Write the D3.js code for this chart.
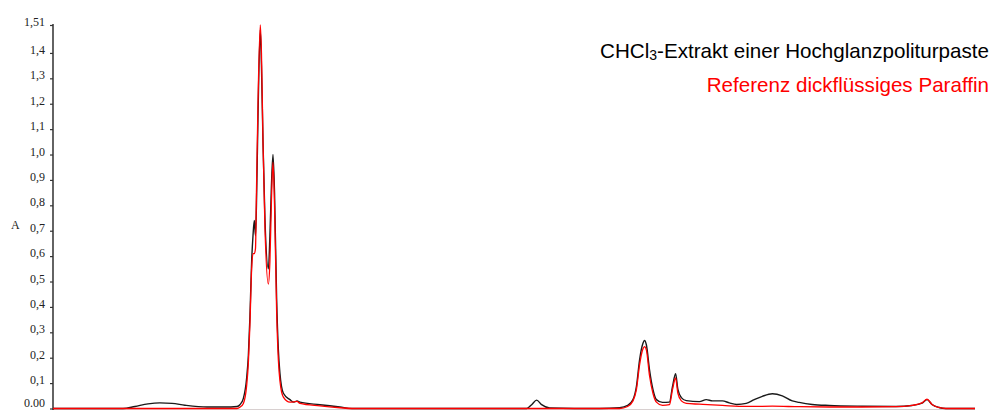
<!DOCTYPE html>
<html><head><meta charset="utf-8">
<script src="https://cdn.jsdelivr.net/npm/d3@7"></script>
<style>html,body{margin:0;padding:0;background:#fff;}svg{display:block;}</style>
</head><body>
<svg id="c" width="992" height="410"></svg>
<script>
// wavenumbers (cm-1) and absorbance
const sampleWn = [4000,3636,3574,3506,3444,3381,3314,3199,3106,3043,3028,3010,2993,2984,2976,2967,2960,2953,2947,2942,2934,2922,2916,2908,2898,2880,2872,2864,2856,2848,2837,2828,2820,2802,2768,2747,2731,2716,2612,2508,2445,1768,1755,1742,1729,1708,1578,1526,1505,1491,1482,1474,1465,1461,1456,1448,1439,1430,1414,1396,1388,1380,1374,1365,1352,1318,1300,1284,1258,1240,1221,1196,1175,1154,1128,1102,1076,1058,1024,980,894,806,764,738,725,712,694,676,600];
const sampleA  = [0,0,0.008,0.018,0.022,0.02,0.013,0.006,0.006,0.008,0.015,0.04,0.12,0.21,0.36,0.58,0.68,0.74,0.68,0.80,1.15,1.49,1.35,1.05,0.75,0.55,0.68,0.88,1.00,0.85,0.43,0.23,0.14,0.06,0.035,0.025,0.03,0.025,0.015,0.006,0,0,0.015,0.033,0.015,0.002,0,0.003,0.012,0.035,0.087,0.19,0.257,0.268,0.25,0.153,0.075,0.035,0.024,0.025,0.087,0.137,0.075,0.043,0.031,0.027,0.035,0.03,0.03,0.022,0.016,0.02,0.035,0.048,0.058,0.05,0.03,0.024,0.016,0.012,0.009,0.008,0.012,0.021,0.035,0.016,0.004,0,0];
const refWn = [4000,3043,3028,3010,2993,2984,2976,2967,2960,2953,2947,2942,2934,2922,2916,2908,2898,2880,2872,2864,2856,2848,2837,2828,2820,2802,2768,2731,2716,2612,2508,2445,1526,1505,1491,1482,1474,1465,1461,1456,1448,1439,1430,1414,1396,1388,1380,1374,1365,1352,1318,1258,1196,1128,1058,980,894,806,764,738,725,712,694,676,600];
const refA  = [0,0,0.005,0.02,0.09,0.18,0.33,0.55,0.61,0.61,0.63,0.85,1.2,1.51,1.40,1.05,0.72,0.49,0.58,0.82,0.97,0.80,0.38,0.19,0.11,0.045,0.025,0.028,0.02,0.01,0.003,0,0,0.008,0.03,0.075,0.17,0.235,0.244,0.23,0.13,0.06,0.025,0.012,0.015,0.075,0.12,0.06,0.03,0.02,0.017,0.012,0.008,0.009,0.007,0.006,0.006,0.007,0.012,0.022,0.037,0.016,0.004,0,0];
const yTickValues = [0,0.1,0.2,0.3,0.4,0.5,0.6,0.7,0.8,0.9,1.0,1.1,1.2,1.3,1.4,1.51];
const yTickLabels = ["0.00","0,1","0,2","0,3","0,4","0,5","0,6","0,7","0,8","0,9","1,0","1,1","1,2","1,3","1,4","1,51"];
const seriesNames = ["CHCl₃-Extrakt einer Hochglanzpoliturpaste","Referenz dickflüssiges Paraffin"];
const seriesColors = ["#1a1a1a","#ff0000"];

const svg = d3.select("#c");
const x = d3.scaleLinear().domain([4000,2000,600]).range([53,437.6,975]);
const y = d3.scaleLinear().domain([0,1.51]).range([408.5,25]);

// baseline
svg.append("line").attr("x1",53).attr("x2",975).attr("y1",409.5).attr("y2",409.5)
  .attr("stroke","#d8d0d0").attr("stroke-width",1);

// y axis
const yAxis = d3.axisLeft(y).tickValues(yTickValues).tickSize(3).tickSizeOuter(0)
  .tickFormat((d,i)=>yTickLabels[i]);
const gy = svg.append("g").attr("transform","translate(53,0)").call(yAxis);
gy.select(".domain").attr("stroke","#222").attr("stroke-width",1.4).attr("d","M0,"+(y(1.51)-1)+"V410");
gy.selectAll(".tick line").attr("stroke","#333").attr("stroke-width",1.2);
gy.selectAll(".tick text").attr("font-family","'Liberation Serif','DejaVu Serif',serif")
  .attr("font-size",12).attr("fill","#222").attr("x",-8)
  .attr("dy",(d)=> d===0 ? "-0.15em" : "0.05em");

svg.append("text").attr("x",11).attr("y",229).attr("font-family","'Liberation Serif',serif")
  .attr("font-size",12).attr("fill","#222").text("A");

const line = d3.line().x(d=>x(d[0])).y(d=>y(d[1])).curve(d3.curveMonotoneX);
const sample = sampleWn.map((w,i)=>[w,sampleA[i]]);
const ref = refWn.map((w,i)=>[w,refA[i]]);
svg.append("path").datum(sample).attr("d",line).attr("fill","none")
  .attr("stroke",seriesColors[0]).attr("stroke-width",1.4).attr("stroke-linejoin","round");
svg.append("path").datum(ref).attr("d",line).attr("fill","none")
  .attr("stroke",seriesColors[1]).attr("stroke-width",1.3).attr("stroke-linejoin","round");

// legend
const lg = svg.append("g").attr("font-family","'Liberation Sans',Arial,sans-serif").attr("font-size",20.6).attr("text-anchor","end");
const t1 = lg.append("text").attr("x",989).attr("y",58).attr("fill","#000");
t1.append("tspan").text("CHCl");
t1.append("tspan").attr("font-size",14).attr("dy",2).text("3");
t1.append("tspan").attr("dy",-2).text("-Extrakt einer Hochglanzpoliturpaste");
lg.append("text").attr("x",989).attr("y",91.5).attr("fill",seriesColors[1]).text(seriesNames[1]);
</script>
</body></html>
